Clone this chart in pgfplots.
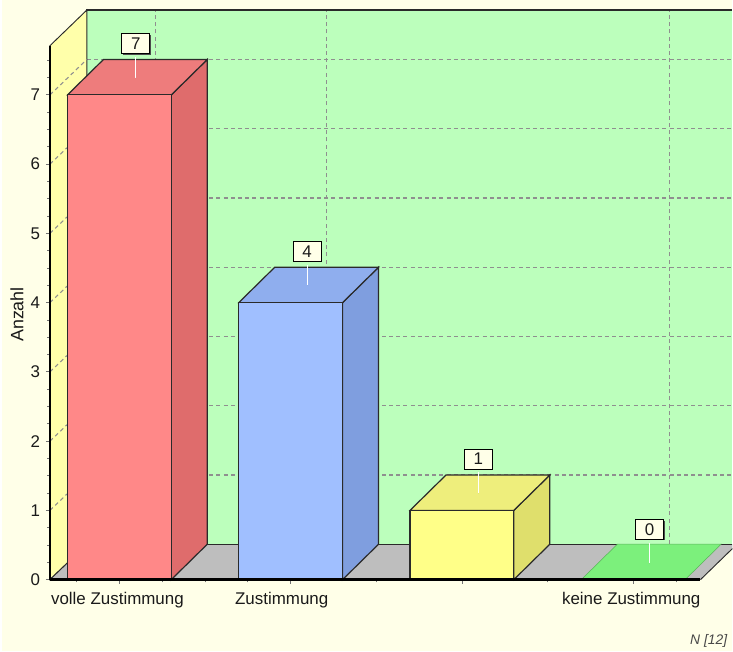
\documentclass[border=0pt]{standalone}
\usepackage{fontspec}
\setmainfont{Liberation Sans}
\usepackage{pgfplots}
\pgfplotsset{compat=1.18}
\usetikzlibrary{shadows}
\definecolor{bgc}{HTML}{FFFFE8}
\definecolor{wallc}{HTML}{BCFFBC}
\definecolor{sidewall}{HTML}{FFFFAA}
\definecolor{floorc}{HTML}{BEBEBE}
\definecolor{gridc}{HTML}{8F8F8F}
\definecolor{edgec}{HTML}{2A2A2A}
\definecolor{txt}{HTML}{1A1A1A}
\begin{document}
\begin{tikzpicture}
\begin{axis}[
  x=128.55pt, y=51.975pt,
  xmin=-0.4055, xmax=3.3926, ymin=0, ymax=7.71,
  clip=false, axis on top=true,
  axis x line*=bottom, axis y line*=left,
  axis line style={line width=1.7pt, black},
  xtick={0,1,2,3},
  xticklabels={volle Zustimmung,Zustimmung\hspace*{10.5pt},,keine Zustimmung},
  minor xtick={-0.25,0.25,0.5,0.75,1.5,2.5,3.25},
  ytick={0,1,2,3,4,5,6,7},
  minor ytick={0.25,0.5,...,7.5},
  tick align=outside,
  major tick length=3pt, minor tick length=2pt,
  tick style={color=gridc!80!black, line width=0.6pt},
  /pgf/number format/assume math mode=true,
  ticklabel style={font=\fontsize{12.7}{15}\selectfont, text=txt},
  xticklabel style={xshift=-1.5pt, yshift=-3pt},
  yticklabel style={xshift=-1pt},
  ylabel={Anzahl},
  ylabel style={at={(axis description cs:-0.0507,0.4966)}, anchor=center, font=\fontsize{13.4}{15}\selectfont, text=txt},
  unbounded coords=jump,
]
% page
\addplot[fill=white, draw=none] coordinates {(-0.6972,-1.038)(3.579,-1.038)(3.579,8.37)(-0.6972,8.37)} -- cycle;
\addplot[fill=bgc, draw=none] coordinates {(-0.687,-1.038)(3.579,-1.038)(3.579,8.37)(-0.687,8.37)} -- cycle;
% back wall
\addplot[fill=wallc, draw=none] coordinates {(-0.19,0.511)(3.579,0.511)(3.579,8.225)(-0.19,8.225)} -- cycle;
% grid on the back wall
\addplot[gridc, line width=0.8pt, dash pattern=on 3pt off 2.4pt] coordinates {
 (-0.19,1.511)(3.579,1.511)(nan,nan)
 (-0.19,2.511)(3.579,2.511)(nan,nan)
 (-0.19,3.511)(3.579,3.511)(nan,nan)
 (-0.19,4.511)(3.579,4.511)(nan,nan)
 (-0.19,5.511)(3.579,5.511)(nan,nan)
 (-0.19,6.511)(3.579,6.511)(nan,nan)
 (-0.19,7.511)(3.579,7.511)(nan,nan)
 (0.21,0.511)(0.21,8.225)(nan,nan)
 (1.21,0.511)(1.21,8.225)(nan,nan)
 (3.21,0.511)(3.21,8.225)
};
\addplot[edgec, line width=0.9pt] coordinates {(-0.19,0.511)(-0.19,8.225)(3.579,8.225)};
% left wall
\addplot[fill=sidewall, draw=edgec, line width=0.7pt] coordinates {(-0.4055,0)(-0.19,0.511)(-0.19,8.225)(-0.4055,7.71)} -- cycle;
\addplot[gridc, line width=0.8pt, dash pattern=on 3pt off 2.4pt] coordinates {
 (-0.4055,1)(-0.19,1.511)(nan,nan)
 (-0.4055,2)(-0.19,2.511)(nan,nan)
 (-0.4055,3)(-0.19,3.511)(nan,nan)
 (-0.4055,4)(-0.19,4.511)(nan,nan)
 (-0.4055,5)(-0.19,5.511)(nan,nan)
 (-0.4055,6)(-0.19,6.511)(nan,nan)
 (-0.4055,7)(-0.19,7.511)
};
% floor
\addplot[fill=floorc, draw=none] coordinates {(-0.4055,0)(3.3926,0)(3.579,0.448)(3.579,0.511)(-0.19,0.511)} -- cycle;
\addplot[edgec, line width=0.9pt] coordinates {(-0.19,0.511)(3.579,0.511)};
\addplot[edgec, line width=0.7pt] coordinates {(-0.4055,0)(-0.19,0.511)};
\addplot[edgec, line width=0.7pt] coordinates {(3.3926,0)(3.579,0.448)};
% bar 1: 7
\addplot[fill={rgb,255:red,223;green,108;blue,108}, draw=edgec, line width=0.9pt] coordinates {(0.303,0)(0.513,0.511)(0.513,7.511)(0.303,7)} -- cycle;
\addplot[fill={rgb,255:red,238;green,124;blue,124}, draw=edgec, line width=0.9pt] coordinates {(-0.303,7)(0.303,7)(0.513,7.511)(-0.093,7.511)} -- cycle;
\addplot[fill={rgb,255:red,255;green,136;blue,136}, draw=edgec, line width=0.9pt] coordinates {(-0.303,0)(0.303,0)(0.303,7)(-0.303,7)} -- cycle;
% bar 2: 4
\addplot[fill={rgb,255:red,127;green,158;blue,223}, draw=edgec, line width=0.9pt] coordinates {(1.303,0)(1.513,0.511)(1.513,4.511)(1.303,4)} -- cycle;
\addplot[fill={rgb,255:red,143;green,174;blue,238}, draw=edgec, line width=0.9pt] coordinates {(0.697,4)(1.303,4)(1.513,4.511)(0.907,4.511)} -- cycle;
\addplot[fill={rgb,255:red,160;green,191;blue,255}, draw=edgec, line width=0.9pt] coordinates {(0.697,0)(1.303,0)(1.303,4)(0.697,4)} -- cycle;
% bar 3: 1
\addplot[fill={rgb,255:red,223;green,223;blue,108}, draw=edgec, line width=0.9pt] coordinates {(2.303,0)(2.513,0.511)(2.513,1.511)(2.303,1)} -- cycle;
\addplot[fill={rgb,255:red,238;green,238;blue,124}, draw=edgec, line width=0.9pt] coordinates {(1.697,1)(2.303,1)(2.513,1.511)(1.907,1.511)} -- cycle;
\addplot[fill={rgb,255:red,255;green,255;blue,136}, draw=edgec, line width=0.9pt] coordinates {(1.697,0)(2.303,0)(2.303,1)(1.697,1)} -- cycle;
% bar 4: 0
\addplot[fill={rgb,255:red,124;green,240;blue,124}, draw={rgb,255:red,90;green,180;blue,90}, line width=0.4pt] coordinates {(2.697,0)(3.303,0)(3.513,0.511)(2.907,0.511)} -- cycle;
% value labels with leaders
\addplot[only marks, mark=*, mark size=0pt, point meta=explicit symbolic,
  error bars/.cd, y dir=plus, y fixed=0.3, error mark=none,
  error bar style={white, line width=0.8pt},
  ] coordinates {(0.096,7.25)[7] (1.096,4.25)[4] (2.096,1.25)[1] (3.096,0.234)[0]};
\addplot[only marks, mark=*, mark size=0pt, draw=none, point meta=explicit symbolic,
  nodes near coords,
  every node near coord/.append style={anchor=center, yshift=25.5pt, draw=black, fill=bgc, text=txt,
    line width=0.8pt, minimum width=21pt, minimum height=15pt, inner sep=0pt,
    font=\fontsize{12.7}{15}\selectfont,
    drop shadow={shadow xshift=0.8pt, shadow yshift=-0.8pt, fill=black!70, opacity=1}},
  ] coordinates {(0.096,7.25)[7] (1.096,4.25)[4] (2.096,1.25)[1] (3.096,0.234)[0]};
\node[anchor=east, inner sep=0pt, text=txt!80, font=\fontsize{10.4}{12}\selectfont\itshape] at (axis cs:3.55,-0.89) {N [12]};
\end{axis}
\end{tikzpicture}
\end{document}
